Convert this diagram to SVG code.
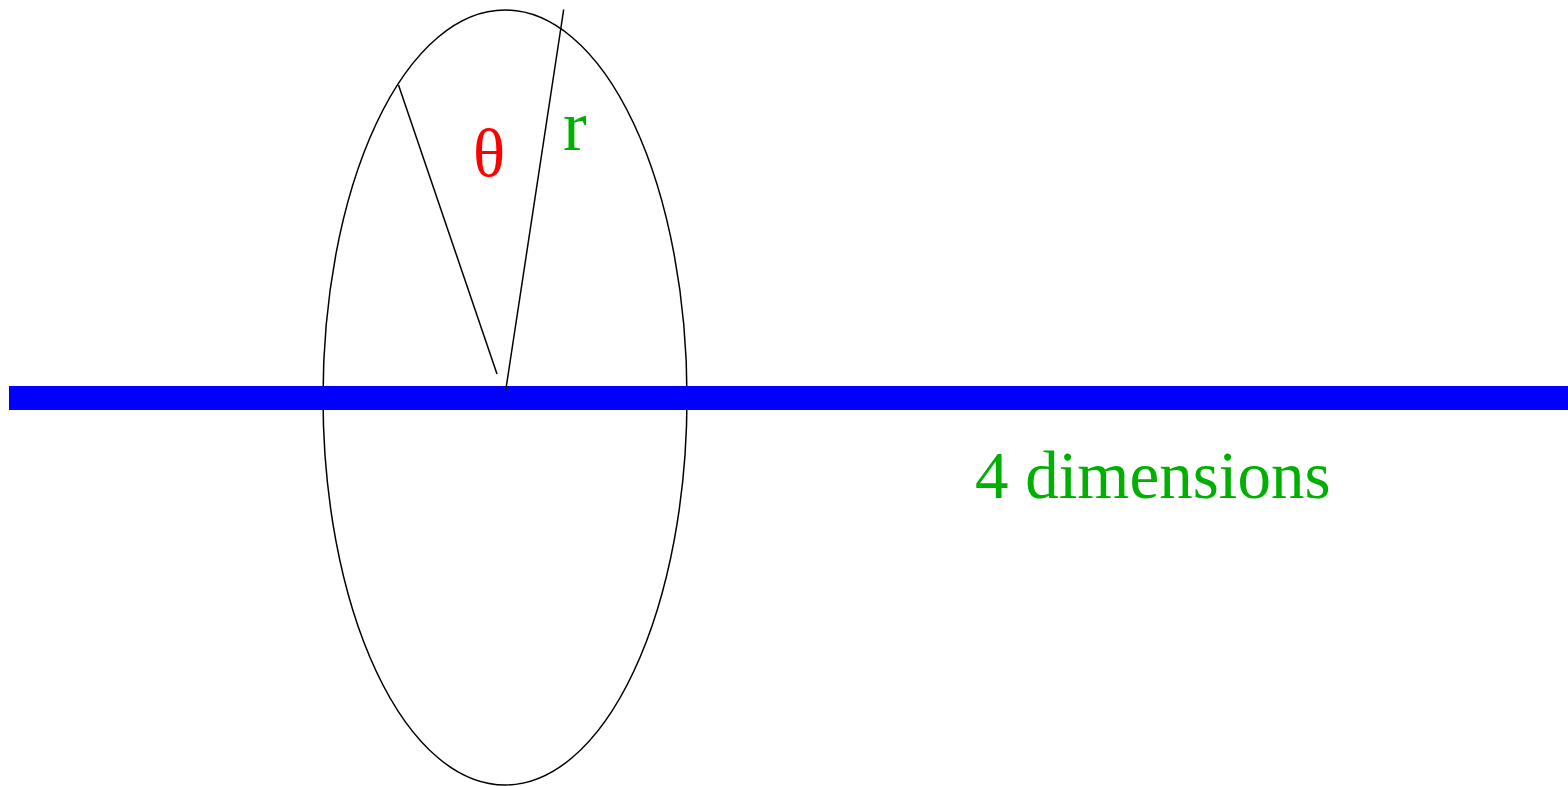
<svg xmlns="http://www.w3.org/2000/svg" width="1568" height="786" viewBox="0 0 1568 786">
<style>
.ln{stroke:#000;stroke-width:1.5;fill:none}
.t{font-family:"Liberation Serif","Times New Roman",serif;font-size:67px}
.g{fill:#00b000}
.r{fill:#ff0000}
</style>
<rect width="1568" height="786" fill="#fff"/>
<g id="circle"><ellipse class="ln" cx="505" cy="397.5" rx="182" ry="387.5"/></g>
<g id="axis"><rect x="9" y="386" width="1559" height="24" fill="#0000ff"/></g>
<g id="connectors">
<line class="ln" x1="497" y1="374" x2="398.5" y2="85"/>
<line class="ln" x1="505.7" y1="390.5" x2="563.7" y2="9.5"/>
</g>
<g id="labels">
<text class="t r" x="473" y="176">θ</text>
<text class="t g" x="563" y="150" style="font-size:71px">r</text>
<text class="t g" x="975" y="498">4 dimensions</text>
</g>
</svg>
